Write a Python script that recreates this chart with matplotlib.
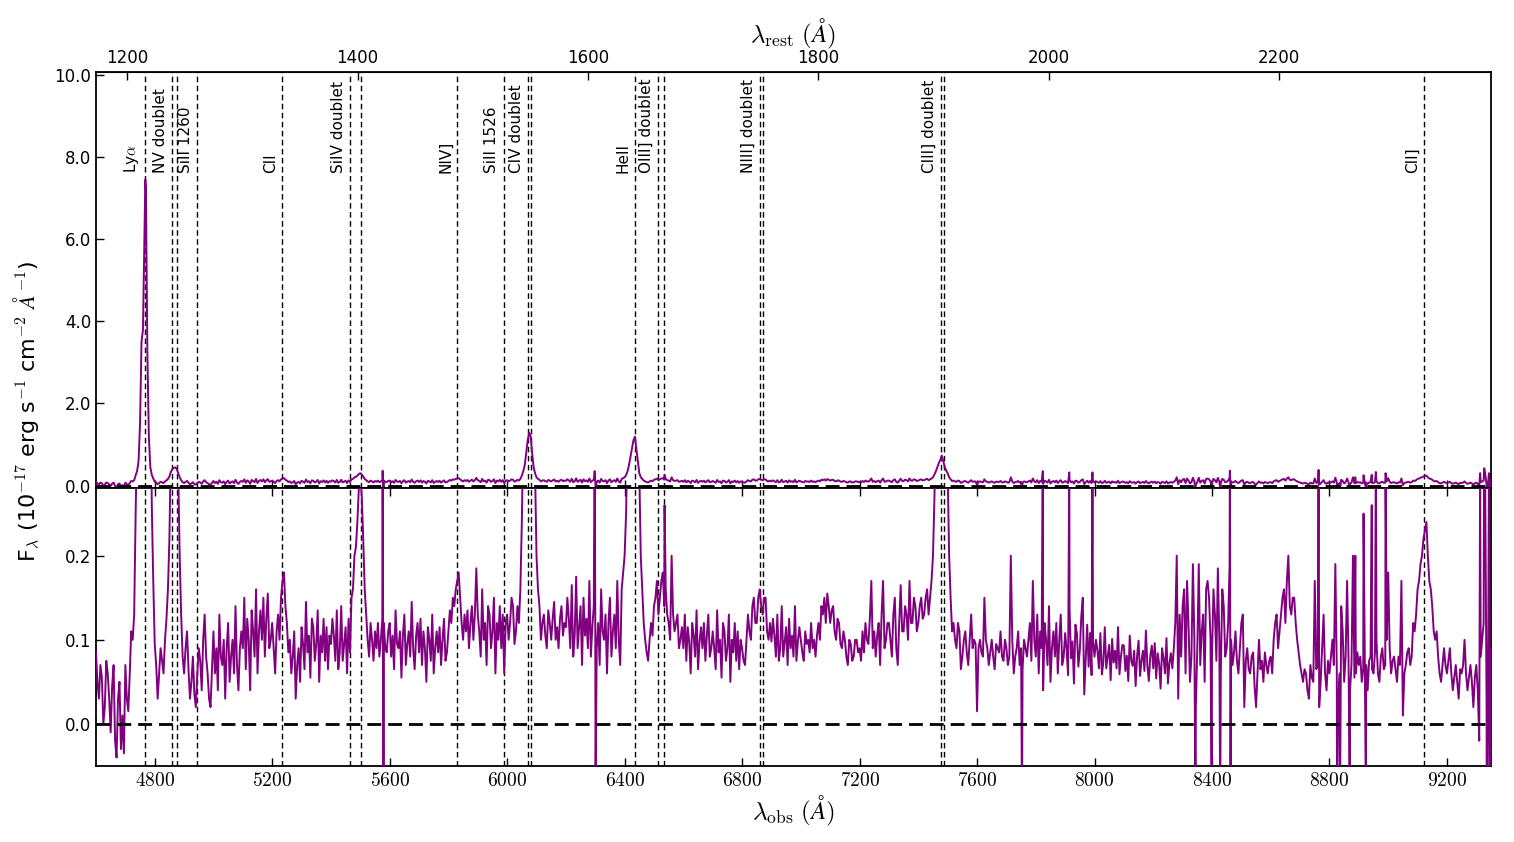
import numpy as np
import matplotlib
matplotlib.use('Agg')
import matplotlib.pyplot as plt
from matplotlib.ticker import FixedLocator, FuncFormatter

plt.rcParams['mathtext.fontset'] = 'cm'
plt.rcParams['font.family'] = 'DejaVu Sans'

Z = 2.922
wl_start, wl_step = 4600, 5

# flux (1e-17 erg/s/cm2/A) at 4600, 4605, ... 9350 ; one row = 100 A
flux = [
    0.085, 0.05, 0.03, 0.07, 0.055, 0.0, 0.02, 0.075, 0.06, 0.03, -0.01, 0.045, 0.07, -0.02, -0.04, 0.03, 0.05, -0.03, 0.01, -0.035,   # 4600
    0.07, 0.03, 0.015, 0.06, 0.11, 0.1, 0.13, 0.25, 0.35, 0.6, 1.5, 3.5, 3.8, 6.0, 7.2, 3.2, 1.2, 0.45, 0.26, 0.17,                   # 4700
    0.095, 0.07, 0.03, 0.06, 0.09, 0.075, 0.06, 0.1, 0.125, 0.16, 0.22, 0.33, 0.4, 0.43, 0.44, 0.4, 0.3, 0.2, 0.13, 0.08,             # 4800
    0.06, 0.09, 0.11, 0.065, 0.03, 0.05, 0.08, 0.035, 0.02, 0.06, 0.09, 0.075, 0.04, 0.1, 0.13, 0.08, 0.06, 0.03, 0.02, 0.065,        # 4900
    0.11, 0.06, 0.09, 0.04, 0.13, 0.08, 0.07, 0.1, 0.03, 0.09, 0.12, 0.05, 0.08, 0.1, 0.06, 0.14, 0.07, 0.04, 0.09, 0.11,             # 5000
    0.09, 0.15, 0.065, 0.125, 0.1, 0.04, 0.135, 0.11, 0.08, 0.16, 0.06, 0.11, 0.135, 0.1, 0.15, 0.08, 0.125, 0.155, 0.09, 0.1,        # 5100
    0.12, 0.09, 0.06, 0.11, 0.13, 0.1, 0.15, 0.17, 0.18, 0.14, 0.12, 0.085, 0.1, 0.06, 0.08, 0.11, 0.03, 0.07, 0.09, 0.05,            # 5200
    0.115, 0.095, 0.065, 0.145, 0.085, 0.105, 0.055, 0.125, 0.115, 0.075, 0.095, 0.135, 0.05, 0.105, 0.085, 0.125, 0.075, 0.115, 0.065, 0.105,  # 5300
    0.095, 0.125, 0.105, 0.075, 0.135, 0.065, 0.085, 0.14, 0.075, 0.095, 0.115, 0.06, 0.125, 0.085, 0.15, 0.16, 0.2, 0.21, 0.24, 0.28,  # 5400
    0.3, 0.27, 0.22, 0.16, 0.13, 0.1, 0.08, 0.12, 0.1, 0.075, 0.11, 0.09, 0.12, 0.08, 0.1, 0.125, 0.12, 0.09, 0.085, 0.11,            # 5500
    0.12, 0.08, 0.105, 0.065, 0.135, 0.095, 0.09, 0.11, 0.055, 0.105, 0.13, 0.07, 0.095, 0.11, 0.08, 0.145, 0.09, 0.065, 0.105, 0.12,  # 5600
    0.085, 0.125, 0.07, 0.11, 0.09, 0.05, 0.115, 0.1, 0.075, 0.13, 0.06, 0.09, 0.11, 0.085, 0.115, 0.07, 0.1, 0.125, 0.075, 0.085,    # 5700
    0.11, 0.135, 0.12, 0.15, 0.14, 0.16, 0.17, 0.18, 0.15, 0.12, 0.1, 0.13, 0.11, 0.135, 0.09, 0.12, 0.14, 0.1, 0.13, 0.185,          # 5800
    0.13, 0.11, 0.08, 0.16, 0.1, 0.12, 0.07, 0.14, 0.13, 0.09, 0.11, 0.15, 0.06, 0.12, 0.1, 0.14, 0.09, 0.13, 0.06, 0.12,             # 5900
    0.13, 0.1, 0.12, 0.15, 0.14, 0.095, 0.11, 0.14, 0.12, 0.16, 0.24, 0.35, 0.5, 0.8, 1.1, 1.29, 1.2, 0.8, 0.45, 0.3,                 # 6000
    0.2, 0.16, 0.14, 0.1, 0.12, 0.13, 0.105, 0.09, 0.135, 0.12, 0.1, 0.125, 0.145, 0.1, 0.115, 0.09, 0.125, 0.14, 0.105, 0.12,        # 6100
    0.115, 0.15, 0.125, 0.09, 0.165, 0.08, 0.105, 0.175, 0.09, 0.115, 0.14, 0.07, 0.15, 0.105, 0.125, 0.09, 0.17, 0.08, 0.115, 0.14,  # 6200
    0.14, 0.09, 0.12, 0.07, 0.16, 0.11, 0.1, 0.13, 0.06, 0.12, 0.15, 0.08, 0.11, 0.13, 0.09, 0.17, 0.1, 0.07, 0.16, 0.18,             # 6300
    0.2, 0.25, 0.35, 0.5, 0.7, 0.9, 1.1, 1.19, 0.9, 0.6, 0.3, 0.2, 0.16, 0.12, 0.1, 0.085, 0.075, 0.1, 0.12, 0.105,                   # 6400
    0.14, 0.15, 0.17, 0.13, 0.15, 0.17, 0.18, 0.14, 0.16, 0.13, 0.12, 0.1, 0.2, 0.13, 0.11, 0.12, 0.13, 0.09, 0.1, 0.115,             # 6500
    0.09, 0.13, 0.075, 0.115, 0.097, 0.06, 0.12, 0.105, 0.08, 0.135, 0.065, 0.097, 0.115, 0.09, 0.12, 0.075, 0.105, 0.13, 0.08, 0.09,  # 6600
    0.11, 0.09, 0.065, 0.135, 0.085, 0.1, 0.055, 0.12, 0.11, 0.075, 0.09, 0.13, 0.05, 0.1, 0.085, 0.12, 0.075, 0.11, 0.065, 0.1,      # 6700
    0.09, 0.075, 0.07, 0.1, 0.13, 0.11, 0.1, 0.14, 0.15, 0.12, 0.12, 0.15, 0.16, 0.14, 0.13, 0.15, 0.15, 0.11, 0.1, 0.12,             # 6800
    0.098, 0.125, 0.105, 0.08, 0.13, 0.075, 0.09, 0.14, 0.08, 0.098, 0.115, 0.07, 0.125, 0.09, 0.105, 0.08, 0.14, 0.075, 0.098, 0.115,  # 6900
    0.1, 0.085, 0.075, 0.11, 0.095, 0.1, 0.085, 0.12, 0.09, 0.1, 0.08, 0.105, 0.12, 0.1, 0.14, 0.13, 0.15, 0.12, 0.155, 0.14,         # 7000
    0.12, 0.135, 0.14, 0.11, 0.1, 0.125, 0.12, 0.095, 0.09, 0.11, 0.1, 0.08, 0.07, 0.1, 0.095, 0.075, 0.08, 0.1, 0.1, 0.085,          # 7100
    0.09, 0.075, 0.11, 0.085, 0.12, 0.1, 0.095, 0.125, 0.17, 0.09, 0.11, 0.08, 0.105, 0.12, 0.07, 0.13, 0.17, 0.09, 0.1, 0.12,        # 7200
    0.12, 0.1, 0.08, 0.13, 0.15, 0.09, 0.07, 0.12, 0.165, 0.11, 0.11, 0.14, 0.13, 0.1, 0.17, 0.12, 0.12, 0.15, 0.14, 0.11,            # 7300
    0.12, 0.14, 0.15, 0.125, 0.13, 0.15, 0.16, 0.13, 0.15, 0.17, 0.2, 0.27, 0.35, 0.45, 0.55, 0.62, 0.73, 0.6, 0.45, 0.36,            # 7400
    0.3, 0.2, 0.15, 0.11, 0.12, 0.1, 0.09, 0.12, 0.11, 0.065, 0.08, 0.1, 0.11, 0.085, 0.07, 0.1, 0.13, 0.09, 0.1, 0.095,              # 7500
    0.015, 0.09, 0.1, 0.085, 0.08, 0.15, 0.1, 0.09, 0.07, 0.085, 0.1, 0.08, 0.065, 0.095, 0.09, 0.085, 0.11, 0.08, 0.075, 0.1,        # 7600
    0.09, 0.07, 0.08, 0.2, 0.1, 0.06, 0.08, 0.09, 0.11, 0.07, 0.09, 0.065, 0.1, 0.09, 0.08, 0.1, 0.12, 0.075, 0.17, 0.1,              # 7700
    0.08, 0.13, 0.06, 0.11, 0.09, 0.04, 0.12, 0.1, 0.07, 0.14, 0.05, 0.09, 0.11, 0.08, 0.12, 0.06, 0.1, 0.13, 0.07, 0.08,             # 7800
    0.108, 0.088, 0.058, 0.138, 0.078, 0.098, 0.048, 0.118, 0.108, 0.068, 0.088, 0.128, 0.15, 0.035, 0.078, 0.118, 0.068, 0.108, 0.058, 0.098,  # 7900
    0.08, 0.1, 0.087, 0.066, 0.108, 0.059, 0.073, 0.115, 0.066, 0.08, 0.094, 0.052, 0.101, 0.073, 0.087, 0.066, 0.115, 0.059, 0.08, 0.094,  # 8000
    0.093, 0.063, 0.081, 0.051, 0.105, 0.075, 0.069, 0.087, 0.045, 0.081, 0.099, 0.057, 0.075, 0.087, 0.063, 0.111, 0.069, 0.051, 0.081, 0.093,  # 8100
    0.066, 0.096, 0.054, 0.084, 0.072, 0.042, 0.09, 0.078, 0.06, 0.102, 0.048, 0.072, 0.084, 0.066, 0.09, 0.12, 0.2, 0.03, 0.13, 0.08,  # 8200
    0.14, 0.16, 0.06, 0.17, 0.12, 0.05, 0.08, 0.19, 0.1, 0.02, 0.09, 0.19, 0.07, 0.11, 0.13, 0.05, 0.16, 0.17, 0.15, 0.1,             # 8300
    0.08, 0.16, 0.13, 0.075, 0.185, 0.1, 0.06, 0.16, 0.14, 0.08, 0.09, 0.12, 0.19, 0.1, 0.07, 0.085, 0.11, 0.075, 0.06, 0.09,         # 8400
    0.12, 0.13, 0.02, 0.075, 0.09, 0.065, 0.06, 0.08, 0.085, 0.045, 0.02, 0.06, 0.1, 0.065, 0.075, 0.05, 0.085, 0.07, 0.06, 0.075,    # 8500
    0.08, 0.06, 0.1, 0.12, 0.13, 0.09, 0.11, 0.13, 0.15, 0.16, 0.12, 0.17, 0.2, 0.14, 0.13, 0.15, 0.15, 0.12, 0.1, 0.085,             # 8600
    0.07, 0.06, 0.05, 0.065, 0.06, 0.04, 0.03, 0.07, 0.055, 0.05, 0.17, 0.065, 0.07, 0.02, 0.05, 0.09, 0.13, 0.06, 0.04, 0.075,       # 8700
    0.06, 0.08, 0.1, 0.07, 0.19, 0.065, 0.03, 0.06, 0.14, 0.11, 0.05, 0.08, 0.17, 0.075, 0.04, 0.07, 0.2, 0.055, 0.06, 0.085,         # 8800
    0.07, 0.08, 0.05, 0.065, 0.09, 0.07, 0.04, 0.075, 0.08, 0.065, 0.06, 0.085, 0.1, 0.06, 0.05, 0.08, 0.09, 0.065, 0.07, 0.1,        # 8900
    0.18, 0.09, 0.06, 0.075, 0.08, 0.065, 0.05, 0.08, 0.07, 0.17, 0.01, 0.06, 0.07, 0.085, 0.09, 0.07, 0.08, 0.12, 0.11, 0.13,        # 9000
    0.16, 0.17, 0.19, 0.2, 0.22, 0.23, 0.24, 0.2, 0.17, 0.16, 0.14, 0.11, 0.1, 0.11, 0.08, 0.06, 0.05, 0.07, 0.09, 0.07,              # 9100
    0.06, 0.075, 0.09, 0.06, 0.04, 0.055, 0.07, 0.05, 0.03, 0.065, 0.06, 0.07, 0.1, 0.06, 0.04, 0.055, 0.07, 0.05, 0.02, 0.055,       # 9200
    0.07, 0.04, -0.02, 0.08, 0.1, 0.12, 0.3, 0.02, 0.05, 0.06, 0.09,                                                                   # 9300
]

# narrow features between grid points (line peak, sky-residual spikes)
extra_wl = [4768, 5576, 5579, 6298, 6301, 6536, 7753, 7824, 7914, 7993,
            8344, 8399, 8428, 8461, 8463, 8763, 8826, 8836, 8869, 8888,
            8916, 8924, 8944, 8958, 8991, 9313, 9327, 9336, 9343, 9347]
extra_flux = [7.45, 0.36, -0.08, 0.35, -0.08, 0.26, -0.1, 0.35, 0.32, 0.32,
              -0.12, -0.1, -0.1, 0.36, -0.1, 0.38, -0.1, -0.1, -0.1, 0.2,
              0.25, -0.1, 0.26, 0.33, 0.3, 0.3, 0.42, -0.2, 0.3, -0.2]

line_names = ['Ly$\\alpha$', 'NV doublet', 'SiII 1260', 'CII', 'SiIV doublet',
              'NIV]', 'SiII 1526', 'CIV doublet', 'HeII', 'OIII] doublet',
              'NIII] doublet', 'CIII] doublet', 'CII]']
line_rest = [[1215.67], [1238.82, 1242.80], [1260.42], [1334.53],
             [1393.76, 1402.77], [1486.5], [1526.71], [1548.19, 1550.77],
             [1640.42], [1660.81, 1666.15], [1749.67, 1752.16],
             [1906.68, 1908.73], [2326.0]]

obs_ticks = [4800, 5200, 5600, 6000, 6400, 6800, 7200, 7600, 8000, 8400, 8800, 9200]
rest_ticks = [1200, 1400, 1600, 1800, 2000, 2200]
top_yticks = [0, 2, 4, 6, 8, 10]
bot_yticks = [0.0, 0.1, 0.2]

wl_grid = wl_start + wl_step * np.arange(len(flux))
wl_all = np.concatenate([wl_grid, np.array(extra_wl, float)])
fl_all = np.concatenate([np.array(flux, float), np.array(extra_flux, float)])
order = np.argsort(wl_all, kind='stable')
wl_all, fl_all = wl_all[order], fl_all[order]

fig = plt.figure(figsize=(15.14, 8.42), dpi=100)
gs = fig.add_gridspec(2, 1, height_ratios=[3, 2], hspace=0,
                      left=0.0634, right=0.9848, top=0.9145, bottom=0.0903)
ax1 = fig.add_subplot(gs[0])
ax2 = fig.add_subplot(gs[1], sharex=ax1)

purple = '#800080'
for ax in (ax1, ax2):
    ax.plot(wl_all, fl_all, color=purple, lw=1.4, zorder=3)
    ax.axhline(0, color='black', lw=2, ls=(0, (5, 2.5)), zorder=4)
    for group in line_rest:
        for r in group:
            ax.axvline(r * (1 + Z), color='black', lw=1.0, ls=(0, (4, 2.5)), zorder=2)
    ax.tick_params(direction='in', which='both', top=True, length=6, width=1)
    for s in ax.spines.values():
        s.set_linewidth(1.3)

ax1.set_xlim(4600, 9350)
ax1.set_ylim(-0.07, 10.07)
ax2.set_ylim(-0.05, 0.28)

ax1.yaxis.set_major_locator(FixedLocator(top_yticks))
ax1.yaxis.set_major_formatter(FuncFormatter(lambda v, p: f'{v:.1f}'))
ax2.yaxis.set_major_locator(FixedLocator(bot_yticks))
ax2.yaxis.set_major_formatter(FuncFormatter(lambda v, p: f'{v:.1f}'))
ax1.tick_params(axis='y', labelsize=12)
ax2.tick_params(axis='y', labelsize=12)

ax2.xaxis.set_major_locator(FixedLocator(obs_ticks))
ax2.xaxis.set_major_formatter(FuncFormatter(lambda v, p: f'${v:.0f}$'))
ax2.tick_params(axis='x', labelsize=14)
ax1.tick_params(axis='x', labelbottom=False, top=False)

sec = ax1.secondary_xaxis('top', functions=(lambda x: x / (1 + Z), lambda x: x * (1 + Z)))
sec.xaxis.set_major_locator(FixedLocator(rest_ticks))
sec.xaxis.set_major_formatter(FuncFormatter(lambda v, p: f'{v:.0f}'))
sec.tick_params(direction='in', length=6, width=1, labelsize=12)
sec.set_xlabel(r'$\lambda_{\rm rest}\ (\AA)$', fontsize=18, labelpad=5)

ax2.set_xlabel(r'$\lambda_{\rm obs}\ (\AA)$', fontsize=18, labelpad=3)

for name, group in zip(line_names, line_rest):
    ax1.annotate(name, xy=(group[0] * (1 + Z), 7.62), xytext=(-3, 0),
                 textcoords='offset points', rotation=90, ha='right', va='bottom',
                 fontsize=11, zorder=5)

fig.text(0.018, 0.511, r'F$_\lambda$ (10$^{-17}$ erg s$^{-1}$ cm$^{-2}$ $\AA^{-1}$)',
         rotation=90, ha='center', va='center', fontsize=16)

fig.savefig('out.png', dpi=100)
